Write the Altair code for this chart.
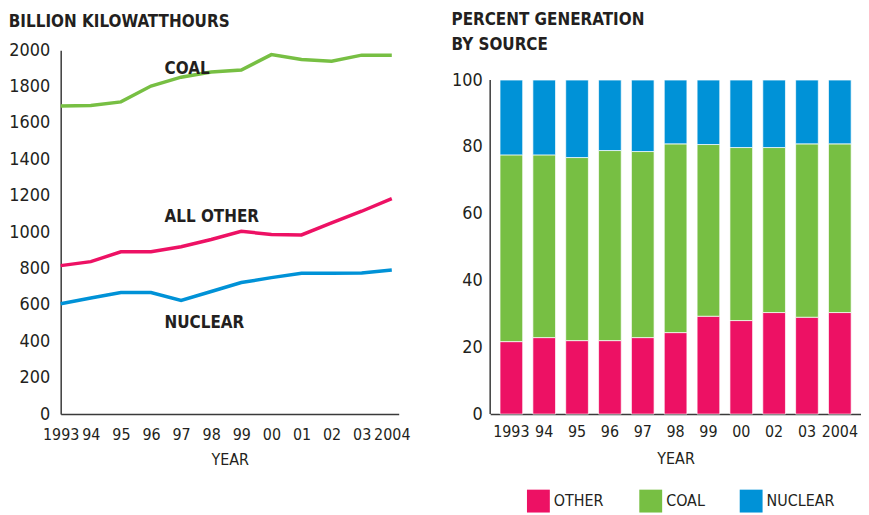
import altair as alt
import pandas as pd

FONT = "DejaVu Sans Condensed, Roboto, sans-serif"
INK = "#231F20"
PINK = "#ED1164"
GREEN = "#77BF43"
BLUE = "#0092D7"

# ---- left panel data (billion kWh) ----
years = [1993, 1994, 1995, 1996, 1997, 1998, 1999, 2000, 2001, 2002, 2003, 2004]
coal = [1694, 1696, 1716, 1803, 1852, 1880, 1891, 1976, 1949, 1940, 1973, 1973]
all_other = [816, 838, 892, 892, 920, 960, 1005, 987, 985, 1051, 1115, 1184]
nuclear = [607, 638, 668, 668, 625, 674, 723, 750, 774, 774, 776, 792]

series_names = ["COAL", "ALL OTHER", "NUCLEAR"]
series_colors = [GREEN, PINK, BLUE]

label_text = ["COAL", "ALL OTHER", "NUCLEAR"]
label_year = [1996.45, 1996.45, 1996.45]
label_value = [1869, 1056, 474]

# ---- right panel data (percent) ----
bar_years = ["1993", "94", "95", "96", "97", "98", "99", "00", "02", "03", "2004"]
pct_other = [21.7, 22.9, 22.0, 22.0, 22.9, 24.4, 29.3, 28.0, 30.4, 29.0, 30.4]
pct_coal = [55.9, 54.7, 54.8, 56.9, 55.7, 56.5, 51.4, 51.8, 49.4, 51.9, 50.5]
pct_nuclear = [22.4, 22.4, 23.2, 21.1, 21.4, 19.1, 19.3, 20.2, 20.2, 19.1, 19.1]
bar_sources = ["OTHER", "COAL", "NUCLEAR"]
bar_colors = [PINK, GREEN, BLUE]
pct_ticks = [0, 20, 40, 60, 80, 100]

line_rows = []
for name, vals in zip(series_names, [coal, all_other, nuclear]):
    for y, v in zip(years, vals):
        line_rows.append({"year": y, "value": v, "series": name})
line_df = pd.DataFrame(line_rows)
label_df = pd.DataFrame({"text": label_text, "year": label_year, "value": label_value})

bar_rows = []
for i, (src, vals) in enumerate(zip(bar_sources, [pct_other, pct_coal, pct_nuclear])):
    for yr, v in zip(bar_years, vals):
        bar_rows.append({"year": yr, "source": src, "value": v, "order": i})
bar_df = pd.DataFrame(bar_rows)

AXIS_GRAY = "#3a3a3a"
axis_common = dict(
    labelFont=FONT, labelColor=INK, titleFont=FONT, titleColor=INK,
    titleFontWeight="normal", domainColor=AXIS_GRAY, domainWidth=1.5,
    ticks=False, grid=False, labelOverlap=False, labelFlush=False,
)

x_left_scale = alt.Scale(domain=[1993, 2004.23], nice=False, zero=False)
x_left_axis = alt.Axis(
    values=years, title="YEAR", labelFontSize=16, titleFontSize=16,
    labelPadding=13, titlePadding=9,
    labelExpr=(
        "datum.value == 1993 || datum.value == 2004 ? '' + datum.value : "
        "substring('' + datum.value, 2)"
    ),
    **axis_common,
)
y_left_scale = alt.Scale(domain=[0, 2000], nice=False)
y_left_axis = alt.Axis(values=list(range(0, 2001, 200)), format="d", title=None,
                       labelFontSize=18, labelPadding=11, **axis_common)

lines = alt.Chart(line_df).mark_line(strokeWidth=3.5).encode(
    x=alt.X("year:Q", scale=x_left_scale, axis=x_left_axis),
    y=alt.Y("value:Q", scale=y_left_scale, axis=y_left_axis),
    color=alt.Color("series:N", scale=alt.Scale(domain=series_names, range=series_colors), legend=None),
)
labels = alt.Chart(label_df).mark_text(
    align="left", baseline="alphabetic", font=FONT, fontSize=17, fontWeight="bold", color=INK
).encode(
    x=alt.X("year:Q", scale=x_left_scale, axis=x_left_axis),
    y=alt.Y("value:Q", scale=y_left_scale, axis=y_left_axis),
    text="text:N",
)

left = alt.layer(lines, labels).properties(
    width=340, height=366,
    title=alt.TitleParams(
        "BILLION KILOWATTHOURS", anchor="start", frame="bounds",
        font=FONT, fontSize=17, fontWeight="bold", color=INK, offset=10,
    ),
)

# the percent axis stops at 100; the plot area reaches higher so both panels share a top edge
PCT_TOP = 100 * 366 / 336
y_right_scale = alt.Scale(domain=[0, PCT_TOP], nice=False)
y_right_axis = alt.Axis(values=pct_ticks, title=None, labelFontSize=18, labelPadding=8,
                        **{**axis_common, "domain": False})

bars = alt.Chart(bar_df).mark_bar(stroke="white", strokeWidth=1, strokeOpacity=0.7).encode(
    x=alt.X(
        "year:N", sort=bar_years,
        scale=alt.Scale(paddingInner=0.31, paddingOuter=0.3),
        axis=alt.Axis(title="YEAR", labelAngle=0, labelFontSize=16, titleFontSize=16,
                      labelPadding=10, titlePadding=11, **axis_common),
    ),
    y=alt.Y("value:Q", stack="zero", scale=y_right_scale, axis=y_right_axis),
    color=alt.Color(
        "source:N",
        scale=alt.Scale(domain=bar_sources, range=bar_colors),
        legend=alt.Legend(
            title=None, orient="none", direction="horizontal", legendX=37, legendY=442,
            symbolType="square", symbolSize=529, symbolStrokeWidth=0, symbolOpacity=1,
            labelFont=FONT, labelFontSize=16, labelColor=INK, labelOffset=4,
            columnPadding=35, padding=0,
        ),
    ),
    order=alt.Order("order:Q"),
)

pct_axis_line = alt.Chart(pd.DataFrame({"lo": [pct_ticks[0]], "hi": [pct_ticks[-1]]})).mark_rule(
    color=AXIS_GRAY, strokeWidth=1.5
).encode(
    x=alt.value(0),
    y=alt.Y("lo:Q", scale=y_right_scale, axis=y_right_axis),
    y2="hi:Q",
)

right = alt.layer(bars, pct_axis_line).properties(
    width=373, height=366,
    title=alt.TitleParams(
        ["PERCENT GENERATION", "BY SOURCE"], anchor="start", frame="bounds",
        font=FONT, fontSize=17, fontWeight="bold", color=INK, offset=-4, lineHeight=25,
    ),
)

chart = alt.hconcat(left, right, spacing=41).resolve_scale(
    color="independent"
).resolve_legend(color="independent").properties(
    padding={"left": 0, "top": 2, "right": 0, "bottom": 0},
    background="white",
).configure_view(strokeWidth=0)

chart.save("out.html", embed_options={"renderer": "svg", "actions": False})
